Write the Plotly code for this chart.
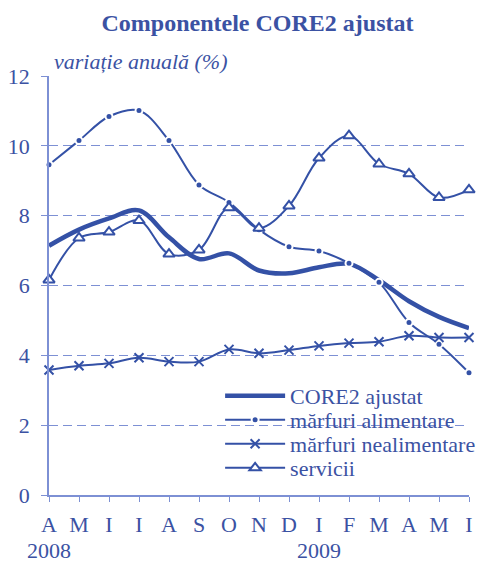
import plotly.graph_objects as go

months = ["A", "M", "I", "I", "A", "S", "O", "N", "D", "I", "F", "M", "A", "M", "I"]
years = ["2008", "2009"]
year_pos = [0, 9]

core2 = [7.14, 7.6, 7.92, 8.15, 7.38, 6.76, 6.92, 6.43, 6.35, 6.52, 6.62, 6.15, 5.55, 5.1, 4.78]
alimentare = [9.46, 10.15, 10.84, 11.01, 10.15, 8.88, 8.38, 7.6, 7.11, 6.99, 6.64, 6.09, 4.94, 4.32, 3.5]
nealimentare = [3.58, 3.7, 3.77, 3.93, 3.82, 3.82, 4.17, 4.06, 4.15, 4.27, 4.35, 4.39, 4.56, 4.51, 4.51]
servicii = [6.16, 7.36, 7.53, 7.86, 6.9, 7.02, 8.23, 7.64, 8.28, 9.65, 10.29, 9.48, 9.2, 8.52, 8.74]

names = ["CORE2 ajustat", "mărfuri alimentare", "mărfuri nealimentare", "servicii"]

BLUE = "#3451A6"
TXT = "#3B52A3"
GRID = "#7D90D4"
FONT = "Liberation Serif"

x = list(range(len(months)))

W, H = 487, 561
L, R, T, B = 49, 6, 76, 66
PW, PH = W - L - R, H - T - B


def px_x(p):
    return (p - L) / PW


def px_y(p):
    return (H - B - p) / PH


legend_rows = [396, 420, 444, 468]
legend_ids = ["legend", "legend2", "legend3", "legend4"]

fig = go.Figure()
fig.add_trace(go.Scatter(x=x, y=core2, name=names[0], mode="lines", legend=legend_ids[0],
                         line=dict(color=BLUE, width=4.5, shape="spline"), cliponaxis=False))
fig.add_trace(go.Scatter(x=x, y=alimentare, name=names[1], mode="lines+markers", legend=legend_ids[1],
                         line=dict(color=BLUE, width=2, shape="spline"),
                         marker=dict(symbol="circle", size=7, color=BLUE, line=dict(color="white", width=2)),
                         cliponaxis=False))
fig.add_trace(go.Scatter(x=x, y=nealimentare, name=names[2], mode="lines+markers", legend=legend_ids[2],
                         line=dict(color=BLUE, width=2, shape="spline"),
                         marker=dict(symbol="x-thin", size=9, color=BLUE, line=dict(color=BLUE, width=2)),
                         cliponaxis=False))
fig.add_trace(go.Scatter(x=x, y=servicii, name=names[3], mode="lines+markers", legend=legend_ids[3],
                         line=dict(color=BLUE, width=2, shape="spline"),
                         marker=dict(symbol="triangle-up", size=10, color="white", line=dict(color=BLUE, width=2)),
                         cliponaxis=False))

legend_common = dict(xanchor="left", yanchor="middle", bgcolor="rgba(0,0,0,0)",
                     font=dict(family=FONT, size=22, color=TXT), itemwidth=60)

layout_legends = {}
for lid, row in zip(legend_ids, legend_rows):
    layout_legends[lid] = dict(x=px_x(225), y=px_y(row), **legend_common)

fig.update_layout(
    width=W, height=H,
    margin=dict(l=L, r=R, t=T, b=B),
    paper_bgcolor="white", plot_bgcolor="white",
    font=dict(family=FONT, color=TXT, size=22),
    title=dict(text="<b>Componentele CORE2 ajustat</b>", x=257.5 / W, xanchor="center",
               y=1 - 23 / H, yanchor="middle", xref="container", yref="container",
               font=dict(family=FONT, size=24, color=TXT)),
    showlegend=True,
    xaxis=dict(range=[0, 14], tickvals=x, ticktext=months, showgrid=False, zeroline=False,
               showline=True, linecolor=GRID, linewidth=1.5, ticks="outside", ticklen=5,
               tickcolor=GRID, tickwidth=1.2, ticklabelstandoff=4,
               tickfont=dict(family=FONT, size=22, color=TXT)),
    yaxis=dict(range=[0, 12], tickvals=[0, 2, 4, 6, 8, 10, 12], showgrid=True, gridcolor=GRID,
               griddash="9px,5px", gridwidth=1.2, zeroline=False, showline=True, linecolor=GRID,
               linewidth=1.5, ticks="outside", ticklen=6, tickcolor=GRID, tickwidth=1.2,
               ticklabelstandoff=7, tickfont=dict(family=FONT, size=22, color=TXT)),
    **layout_legends,
)

# white patch behind legend hiding the grid (drawn between gridlines and traces)
fig.add_shape(type="rect", layer="between", xref="paper", yref="paper",
              x0=px_x(195), x1=1.01, y0=px_y(482), y1=px_y(383),
              fillcolor="white", line=dict(width=0))

fig.add_annotation(text="<i>variație anuală (%)</i>", xref="paper", yref="paper",
                   x=px_x(52), y=px_y(62), xanchor="left", yanchor="middle",
                   showarrow=False, font=dict(family=FONT, size=22, color=TXT))
for yr, p in zip(years, year_pos):
    fig.add_annotation(text=yr, xref="x", yref="paper", x=p, y=px_y(550),
                       xanchor="center", yanchor="middle", showarrow=False, height=20,
                       font=dict(family=FONT, size=22, color=TXT))

fig.write_html("out.html", config={"displayModeBar": False},
               post_script="document.body.style.margin='0';")
